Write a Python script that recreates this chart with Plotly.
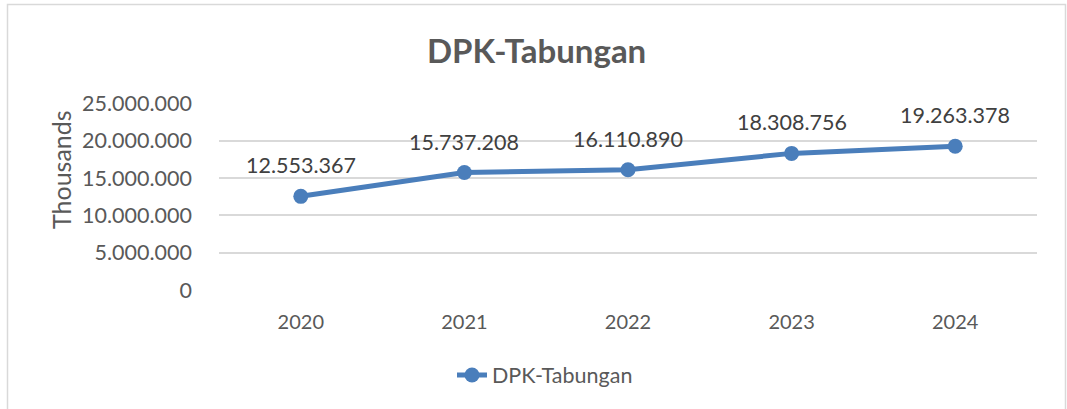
import plotly.graph_objects as go

years = ["2020", "2021", "2022", "2023", "2024"]
values = [12553367, 15737208, 16110890, 18308756, 19263378]
labels = ["12.553.367", "15.737.208", "16.110.890", "18.308.756", "19.263.378"]
series_name = "DPK-Tabungan"
title = "DPK-Tabungan"
y_title = "Thousands"

W, H = 1067, 409
L, R, T, B = 219, 30, 103, 119
pw, ph = W - L - R, H - T - B

def px_x(px):
    return (px - L) / pw

def px_y(py):
    return (H - B - py) / ph

FONT = "Lato"
GRAY = "#595959"
BLUE = "#4a7ebb"

fig = go.Figure()
fig.add_trace(go.Scatter(
    x=years, y=values, mode="lines+markers", name=series_name,
    line=dict(color=BLUE, width=5),
    marker=dict(color=BLUE, size=15),
))

for i, (y, t) in enumerate(zip(values, labels)):
    fig.add_annotation(xref="x", yref="y", x=i, y=y, text=t, showarrow=False, yshift=31,
                       font=dict(family=FONT, size=21.5, color="#404040"))

fig.add_annotation(xref="paper", yref="paper", x=px_x(536), y=px_y(50),
                   xanchor="center", yanchor="middle",
                   text="<b>" + title + "</b>", showarrow=False,
                   font=dict(family=FONT, size=33, color=GRAY))

fig.add_annotation(xref="paper", yref="paper", x=px_x(61), y=px_y(170),
                   xanchor="center", yanchor="middle",
                   text=y_title, showarrow=False, textangle=-90,
                   font=dict(family=FONT, size=25, color=GRAY))

fig.add_shape(type="rect", xref="paper", yref="paper",
              x0=px_x(7.5), x1=px_x(1065.5), y0=px_y(420), y1=px_y(4.5),
              line=dict(color="#d9d9d9", width=1.5), fillcolor="rgba(0,0,0,0)")

fig.update_layout(
    width=W, height=H,
    margin=dict(l=L, r=R, t=T, b=B),
    paper_bgcolor="white", plot_bgcolor="white",
    separators=",.",
    font=dict(family=FONT, size=20, color=GRAY),
    showlegend=True,
    legend=dict(orientation="h", x=px_x(452), xanchor="left", y=px_y(375), yanchor="middle",
                font=dict(family=FONT, size=21.5, color=GRAY)),
    xaxis=dict(type="category", range=[-0.5, 4.5], showgrid=False, showline=False,
               zeroline=False, ticks="", ticklabelstandoff=18,
               tickfont=dict(family=FONT, size=20, color=GRAY)),
    yaxis=dict(range=[0, 25060000], dtick=5000000, tickformat=",d",
               showgrid=True, gridcolor="#d9d9d9", gridwidth=1.5,
               zeroline=False, showline=False, ticks="", ticklabelstandoff=26,
               tickfont=dict(family=FONT, size=21.5, color=GRAY)),
)

fig.write_html("out.html")
